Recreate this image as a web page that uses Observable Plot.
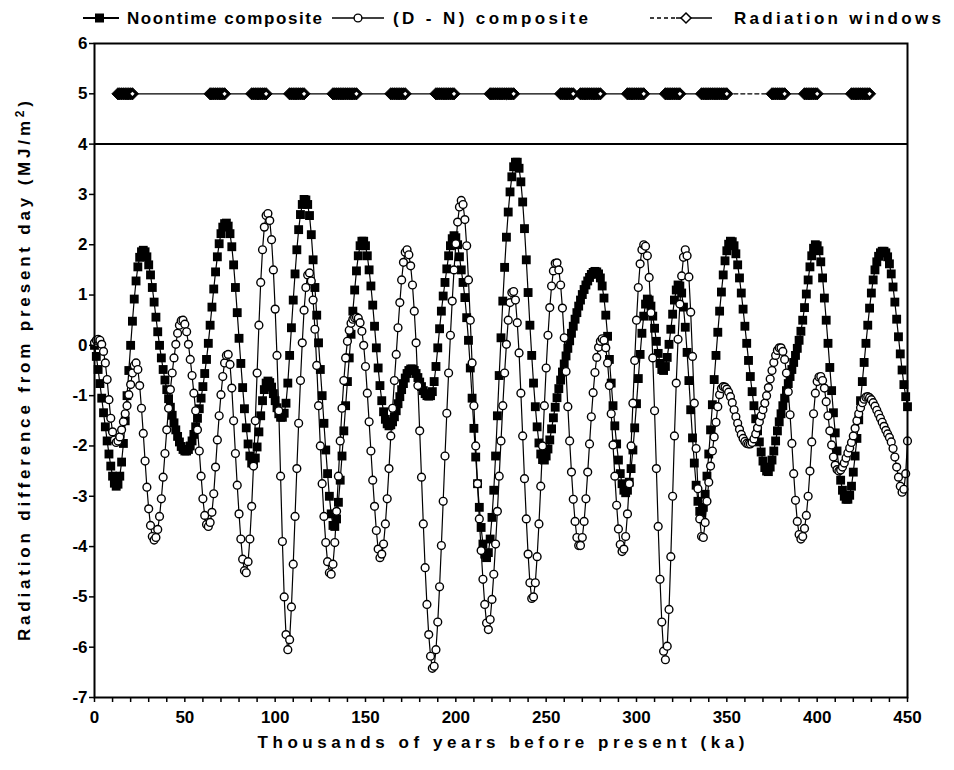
<!DOCTYPE html>
<html>
<head>
<meta charset="utf-8">
<script src="https://cdn.jsdelivr.net/npm/d3@7"></script>
<script src="https://cdn.jsdelivr.net/npm/@observablehq/plot@0.6"></script>
<style>
  body { margin: 0; background: #fff; }
  #wrap { position: relative; width: 954px; height: 770px; overflow: hidden; background: #fff; }
  #chart { position: absolute; left: 0; top: 34px; }
  #overlay { position: absolute; left: 0; top: 0; pointer-events: none; }
  #overlay text { font-family: "Liberation Sans", Arial, Helvetica, sans-serif; font-weight: bold; fill: #000; }
</style>
</head>
<body>
<div id="wrap">
  <div id="chart"></div>
  <svg id="overlay" width="954" height="770"></svg>
</div>
<script>
// ---- data ----
const ages = d3.range(0, 451, 1); // thousands of years before present, 1 ka steps

const noontime = [
  0.00,-0.22,-0.48,-0.76,-1.05,-1.34,-1.62,-1.90,-2.16,-2.40,
  -2.60,-2.74,-2.80,-2.76,-2.60,-2.32,-1.95,-1.50,-1.00,-0.50,
  0.00,0.48,0.92,1.28,1.56,1.75,1.86,1.89,1.86,1.76,
  1.60,1.40,1.15,0.86,0.56,0.27,0.00,-0.25,-0.48,-0.69,
  -0.88,-1.06,-1.23,-1.39,-1.54,-1.68,-1.81,-1.92,-2.01,-2.07,
  -2.10,-2.10,-2.07,-2.00,-1.90,-1.77,-1.62,-1.45,-1.26,-1.05,
  -0.82,-0.56,-0.28,0.04,0.40,0.76,1.12,1.46,1.76,2.02,
  2.22,2.35,2.42,2.43,2.37,2.22,1.96,1.60,1.15,0.65,
  0.14,-0.36,-0.84,-1.26,-1.64,-1.96,-2.20,-2.34,-2.35,-2.24,
  -2.02,-1.72,-1.40,-1.10,-0.88,-0.75,-0.71,-0.74,-0.83,-0.96,
  -1.10,-1.24,-1.36,-1.43,-1.43,-1.35,-1.15,-0.75,-0.20,0.35,
  0.90,1.42,1.90,2.30,2.60,2.80,2.90,2.89,2.80,2.58,
  2.20,1.70,1.15,0.60,0.05,-0.48,-1.00,-1.55,-2.08,-2.55,
  -3.00,-3.35,-3.58,-3.60,-3.45,-3.12,-2.68,-2.20,-1.70,-1.20,
  -0.72,-0.25,0.22,0.68,1.10,1.48,1.78,1.98,2.07,2.07,
  1.98,1.78,1.50,1.18,0.80,0.38,-0.05,-0.45,-0.80,-1.10,
  -1.32,-1.47,-1.56,-1.60,-1.58,-1.52,-1.42,-1.30,-1.16,-1.02,
  -0.88,-0.76,-0.65,-0.56,-0.50,-0.47,-0.47,-0.50,-0.56,-0.64,
  -0.73,-0.82,-0.90,-0.96,-1.00,-1.01,-1.00,-0.92,-0.72,-0.42,
  -0.05,0.33,0.68,0.98,1.25,1.52,1.78,1.98,2.12,2.18,
  2.14,2.00,1.76,1.50,1.25,0.95,0.55,0.10,-0.45,-1.05,
  -1.65,-2.22,-2.75,-3.22,-3.62,-3.95,-4.15,-4.22,-4.12,-3.85,
  -3.42,-2.88,-2.20,-1.40,-0.60,0.15,0.88,1.55,2.15,2.65,
  3.05,3.35,3.55,3.64,3.64,3.52,3.25,2.85,2.32,1.70,
  1.05,0.40,-0.20,-0.75,-1.22,-1.62,-1.94,-2.16,-2.27,-2.28,
  -2.20,-2.06,-1.88,-1.66,-1.44,-1.23,-1.04,-0.86,-0.69,-0.53,
  -0.37,-0.21,-0.06,0.09,0.24,0.38,0.52,0.65,0.78,0.90,
  1.01,1.11,1.20,1.28,1.35,1.41,1.45,1.47,1.46,1.42,
  1.34,1.18,0.94,0.60,0.18,-0.28,-0.75,-1.20,-1.60,-1.96,
  -2.28,-2.55,-2.75,-2.88,-2.93,-2.88,-2.72,-2.45,-2.08,-1.64,
  -1.16,-0.66,-0.18,0.24,0.58,0.82,0.92,0.90,0.78,0.58,
  0.34,0.08,-0.16,-0.36,-0.48,-0.50,-0.42,-0.24,0.02,0.32,
  0.62,0.90,1.10,1.20,1.18,1.04,0.76,0.36,-0.14,-0.70,
  -1.28,-1.84,-2.34,-2.78,-3.10,-3.30,-3.34,-3.22,-2.96,-2.60,
  -2.16,-1.68,-1.18,-0.68,-0.20,0.26,0.68,1.06,1.40,1.68,
  1.88,2.01,2.07,2.06,1.98,1.82,1.60,1.34,1.04,0.72,
  0.38,0.04,-0.30,-0.62,-0.92,-1.20,-1.46,-1.70,-1.92,-2.12,
  -2.30,-2.43,-2.50,-2.51,-2.42,-2.28,-2.10,-1.90,-1.70,-1.52,
  -1.36,-1.20,-1.05,-0.90,-0.76,-0.62,-0.48,-0.34,-0.20,-0.06,
  0.10,0.28,0.50,0.75,1.02,1.30,1.56,1.78,1.93,2.00,
  1.98,1.88,1.66,1.34,0.94,0.50,0.04,-0.44,-0.90,-1.34,
  -1.74,-2.10,-2.42,-2.68,-2.88,-3.00,-3.06,-3.06,-2.98,-2.80,
  -2.52,-2.20,-1.85,-1.48,-1.10,-0.72,-0.34,0.04,0.40,0.74,
  1.04,1.30,1.50,1.66,1.77,1.84,1.87,1.87,1.84,1.76,
  1.62,1.42,1.16,0.86,0.52,0.17,-0.17,-0.49,-0.78,-1.02,
  -1.22
];

const dayMinusNight = [
  0.05,0.10,0.12,0.10,0.02,-0.12,-0.35,-0.68,-1.08,-1.45,
  -1.72,-1.88,-1.93,-1.90,-1.82,-1.68,-1.52,-1.36,-1.20,-0.98,
  -0.78,-0.55,-0.40,-0.35,-0.48,-0.80,-1.25,-1.75,-2.30,-2.82,
  -3.25,-3.58,-3.80,-3.87,-3.82,-3.66,-3.40,-3.05,-2.62,-2.15,
  -1.68,-1.25,-0.88,-0.55,-0.25,0.02,0.24,0.40,0.49,0.50,
  0.42,0.27,0.02,-0.28,-0.60,-0.95,-1.30,-1.68,-2.10,-2.60,
  -3.05,-3.38,-3.56,-3.60,-3.52,-3.32,-2.95,-2.42,-1.88,-1.40,
  -0.98,-0.62,-0.35,-0.20,-0.18,-0.38,-0.85,-1.50,-2.15,-2.78,
  -3.35,-3.85,-4.25,-4.48,-4.52,-4.30,-3.85,-3.20,-2.40,-1.50,
  -0.55,0.40,1.25,1.90,2.35,2.58,2.62,2.48,2.10,1.50,
  0.72,-0.20,-1.30,-2.60,-3.90,-5.00,-5.75,-6.05,-5.85,-5.20,
  -4.35,-3.40,-2.45,-1.55,-0.70,0.05,0.70,1.15,1.40,1.44,
  1.28,0.90,0.32,-0.40,-1.20,-2.00,-2.75,-3.40,-3.92,-4.30,
  -4.52,-4.55,-4.35,-3.92,-3.30,-2.60,-1.90,-1.25,-0.70,-0.25,
  0.08,0.30,0.44,0.52,0.55,0.56,0.54,0.45,0.28,0.00,
  -0.42,-0.95,-1.52,-2.10,-2.68,-3.20,-3.68,-4.05,-4.22,-4.15,
  -3.95,-3.55,-3.05,-2.45,-1.80,-1.25,-0.70,-0.18,0.35,0.85,
  1.30,1.65,1.85,1.90,1.80,1.58,1.20,0.68,0.05,-0.80,
  -1.70,-2.62,-3.55,-4.42,-5.15,-5.75,-6.18,-6.42,-6.38,-6.05,
  -5.50,-4.80,-3.98,-3.10,-2.20,-1.35,-0.55,0.20,0.88,1.50,
  2.02,2.45,2.75,2.88,2.80,2.50,1.98,1.30,0.50,-0.35,
  -1.20,-2.00,-2.75,-3.45,-4.08,-4.65,-5.15,-5.52,-5.65,-5.45,
  -5.05,-4.55,-3.95,-3.30,-2.60,-1.90,-1.20,-0.55,0.02,0.50,
  0.85,1.05,1.07,0.90,0.45,-0.15,-0.95,-1.80,-2.65,-3.45,
  -4.15,-4.72,-5.03,-5.00,-4.72,-4.20,-3.55,-2.80,-2.00,-1.20,
  -0.45,0.20,0.75,1.18,1.48,1.63,1.64,1.50,1.20,0.74,
  0.15,-0.52,-1.22,-1.90,-2.52,-3.06,-3.50,-3.82,-3.98,-3.98,
  -3.82,-3.50,-3.05,-2.52,-1.96,-1.42,-0.94,-0.54,-0.24,-0.04,
  0.08,0.13,0.10,-0.05,-0.35,-0.80,-1.36,-1.98,-2.60,-3.18,
  -3.65,-3.96,-4.10,-4.05,-3.80,-3.35,-2.75,-2.00,-1.15,-0.30,
  0.50,1.15,1.62,1.90,2.00,1.97,1.78,1.35,0.65,-0.25,
  -1.30,-2.45,-3.60,-4.65,-5.50,-6.08,-6.25,-5.98,-5.25,-4.20,
  -3.00,-1.80,-0.75,0.12,0.82,1.38,1.75,1.90,1.78,1.36,
  0.66,-0.22,-1.15,-2.05,-2.85,-3.45,-3.80,-3.82,-3.52,-3.10,
  -2.72,-2.40,-2.10,-1.82,-1.53,-1.22,-0.98,-0.86,-0.82,-0.83,
  -0.87,-0.93,-1.02,-1.14,-1.28,-1.42,-1.55,-1.67,-1.77,-1.85,
  -1.91,-1.95,-1.96,-1.96,-1.93,-1.86,-1.76,-1.64,-1.52,-1.40,
  -1.28,-1.15,-1.00,-0.84,-0.67,-0.50,-0.34,-0.20,-0.10,-0.05,
  -0.05,-0.12,-0.28,-0.55,-0.92,-1.38,-1.95,-2.55,-3.08,-3.50,
  -3.76,-3.85,-3.80,-3.64,-3.38,-3.00,-2.50,-1.92,-1.36,-0.95,
  -0.72,-0.63,-0.62,-0.70,-0.85,-1.12,-1.40,-1.70,-1.98,-2.22,
  -2.38,-2.47,-2.50,-2.48,-2.42,-2.34,-2.24,-2.14,-2.04,-1.93,
  -1.80,-1.65,-1.50,-1.36,-1.24,-1.14,-1.07,-1.03,-1.02,-1.04,
  -1.08,-1.14,-1.21,-1.29,-1.37,-1.45,-1.53,-1.61,-1.69,-1.76,
  -1.83,-1.92,-2.05,-2.22,-2.42,-2.62,-2.80,-2.92,-2.86,-2.55,
  -1.90
];

// radiation windows (ka intervals), drawn at y = 5
const windowStart = [13, 64, 87, 108, 132, 164, 189, 219, 258, 269, 295, 316, 336, 375, 393, 419];
const windowEnd   = [21, 72, 95, 116, 145, 172, 199, 232, 265, 280, 304, 324, 350, 382, 400, 429];
const windowLevel = 5;
const dashedGap = [350, 375]; // segment drawn dashed

const yTicks = [-7,-6,-5,-4,-3,-2,-1,0,1,2,3,4,5,6];
const xTicks = d3.range(0, 451, 10);
const xLabels = [0, 50, 100, 150, 200, 250, 300, 350, 400, 450];
const panelDivider = [4];

const legendLabels = ["Noontime composite", "(D - N) composite", "Radiation windows"];
const xTitle = "Thousands of years before present (ka)";
const yTitle = "Radiation difference from present day (MJ/m";

// ---- tables ----
const nData = ages.map((a, i) => ({ka: a, v: noontime[i]}));
const cData = ages.map((a, i) => ({ka: a, v: dayMinusNight[i]}));
const wData = windowStart.flatMap((s, i) => d3.range(s, windowEnd[i] + 1).map(k => ({ka: k, v: windowLevel})));
const wEnds = windowEnd.map(e => ({ka: e, v: windowLevel}));
const wSolidA = wData.filter(d => d.ka <= dashedGap[0]);
const wDash = wData.filter(d => d.ka >= dashedGap[0] && d.ka <= dashedGap[1]);
const wSolidB = wData.filter(d => d.ka >= dashedGap[1]);

const font = '"Liberation Sans", Arial, Helvetica, sans-serif';

const chart = Plot.plot({
  width: 954,
  height: 736,
  marginLeft: 94,
  marginRight: 47,
  marginTop: 9,
  marginBottom: 73,
  x: {domain: [0, 450]},
  y: {domain: [-7, 6]},
  style: `font-family:${font};font-weight:bold;font-size:17px;background:#fff;color:#000;overflow:visible;`,
  marks: [
    Plot.ruleY(panelDivider, {stroke: "black", strokeWidth: 2}),
    Plot.line(nData, {x: "ka", y: "v", stroke: "black", strokeWidth: 1.2}),
    Plot.dot(nData, {x: "ka", y: "v", symbol: "square", r: 5, fill: "black", stroke: "none"}),
    Plot.line(cData, {x: "ka", y: "v", stroke: "black", strokeWidth: 1.2}),
    Plot.dot(cData, {x: "ka", y: "v", symbol: "circle", r: 3.9, fill: "white", stroke: "black", strokeWidth: 1.4}),
    Plot.line(wSolidA, {x: "ka", y: "v", stroke: "black", strokeWidth: 1.3}),
    Plot.line(wDash, {x: "ka", y: "v", stroke: "black", strokeWidth: 1.3, strokeDasharray: "4,3"}),
    Plot.line(wSolidB, {x: "ka", y: "v", stroke: "black", strokeWidth: 1.3}),
    Plot.dot(wData, {x: "ka", y: "v", symbol: "diamond2", r: 5.5, fill: "black", stroke: "black", strokeWidth: 1}),
    Plot.dot(wEnds, {x: "ka", y: "v", symbol: "diamond2", r: 1.9, fill: "white", stroke: "none"}),
    Plot.frame({stroke: "black", strokeWidth: 2}),
    Plot.axisY({ticks: yTicks, tickSize: 5, tickPadding: 2, tickFormat: d => String(d), label: null, strokeWidth: 1.5}),
    Plot.axisX({ticks: xTicks, tickSize: 5, tickPadding: 8, tickFormat: d => xLabels.includes(d) ? String(d) : "", label: null, strokeWidth: 1.5})
  ]
});
document.getElementById("chart").appendChild(chart);

// ---- legend and axis titles (overlay) ----
const ov = d3.select("#overlay");
const ly = 18;
// item 1
ov.append("line").attr("x1", 83).attr("x2", 119).attr("y1", ly).attr("y2", ly).attr("stroke", "black").attr("stroke-width", 2);
ov.append("rect").attr("x", 95).attr("y", ly - 4.5).attr("width", 9).attr("height", 9).attr("fill", "black");
ov.append("text").attr("x", 127).attr("y", ly + 6).attr("font-size", 17).attr("textLength", 195).attr("lengthAdjust", "spacing").text(legendLabels[0]);
// item 2
ov.append("line").attr("x1", 332).attr("x2", 384).attr("y1", ly).attr("y2", ly).attr("stroke", "black").attr("stroke-width", 1.5);
ov.append("circle").attr("cx", 358).attr("cy", ly).attr("r", 3.9).attr("fill", "white").attr("stroke", "black").attr("stroke-width", 1.4);
ov.append("text").attr("x", 393).attr("y", ly + 6).attr("font-size", 17).attr("textLength", 195).attr("lengthAdjust", "spacing").text(legendLabels[1]);
// item 3
ov.append("line").attr("x1", 650).attr("x2", 676).attr("y1", ly).attr("y2", ly).attr("stroke", "black").attr("stroke-width", 1.5).attr("stroke-dasharray", "4,3");
ov.append("line").attr("x1", 676).attr("x2", 712).attr("y1", ly).attr("y2", ly).attr("stroke", "black").attr("stroke-width", 1.5);
ov.append("path").attr("d", `M686,${ly-5}L691,${ly}L686,${ly+5}L681,${ly}Z`).attr("fill", "white").attr("stroke", "black").attr("stroke-width", 1.5);
ov.append("text").attr("x", 734).attr("y", ly + 6).attr("font-size", 17).attr("textLength", 207).attr("lengthAdjust", "spacing").text(legendLabels[2]);

// x title
ov.append("text").attr("x", 501).attr("y", 748).attr("text-anchor", "middle").attr("font-size", 17)
  .attr("textLength", 487).attr("lengthAdjust", "spacing").text(xTitle);

// y title (rotated)
const yt = ov.append("text").attr("transform", "translate(30,371) rotate(-90)").attr("text-anchor", "middle")
  .attr("font-size", 17).attr("textLength", 540).attr("lengthAdjust", "spacing");
yt.append("tspan").text(yTitle);
yt.append("tspan").attr("dy", -6).attr("font-size", 12).text("2");
yt.append("tspan").attr("dy", 6).text(")");
</script>
</body>
</html>
